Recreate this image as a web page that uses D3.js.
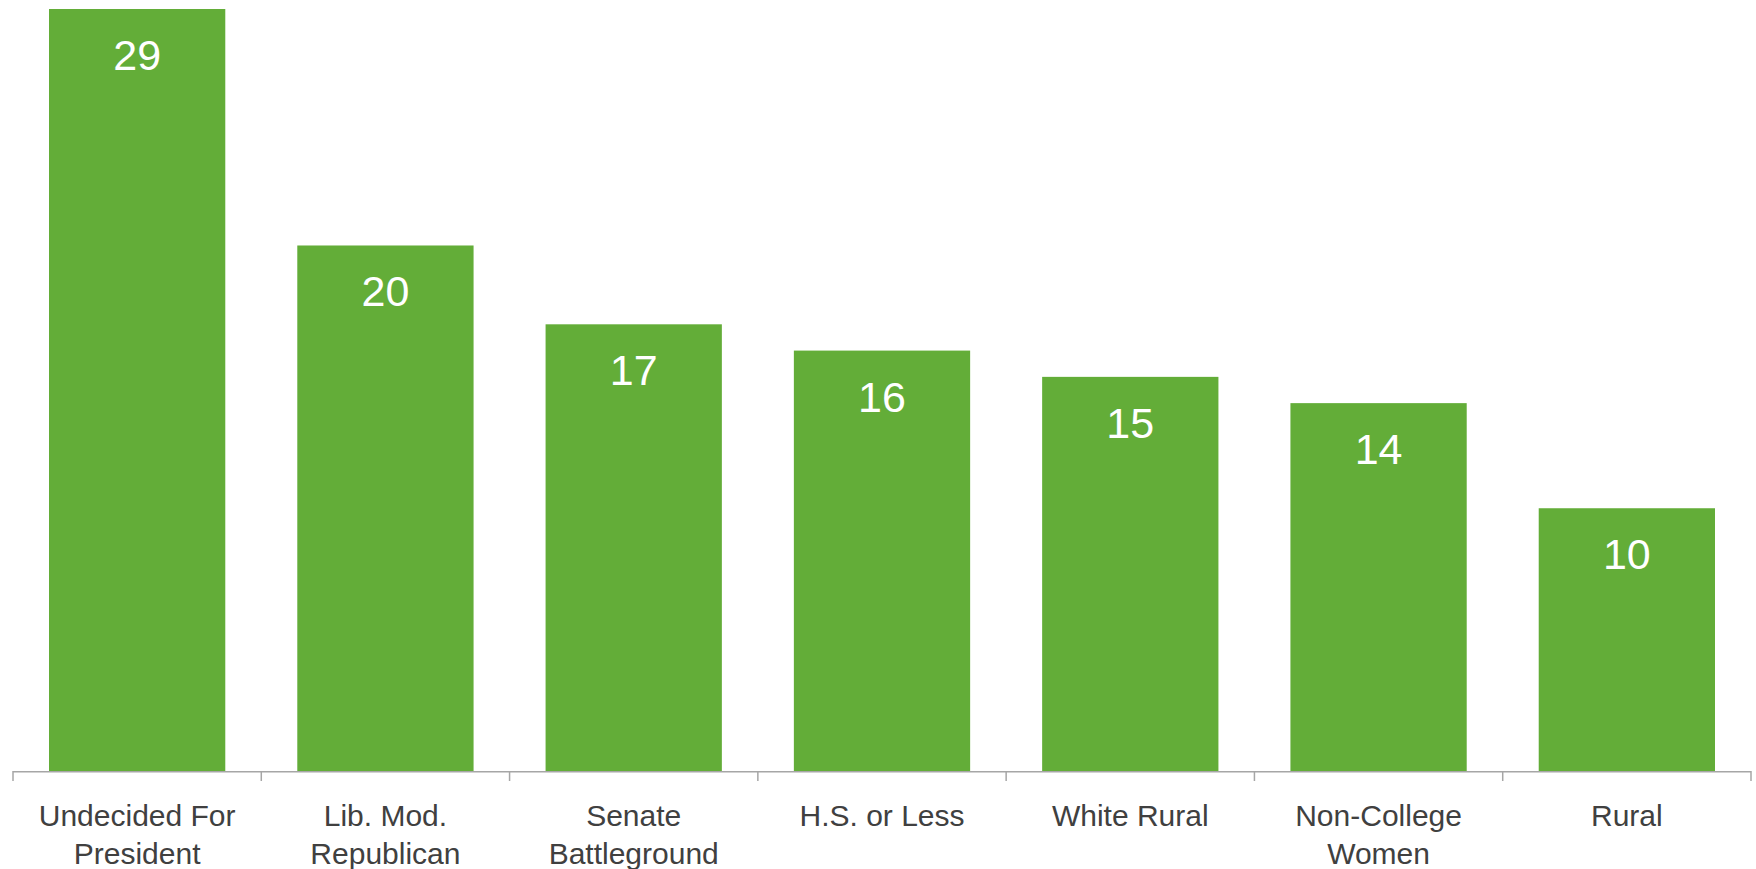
<!DOCTYPE html>
<html>
<head>
<meta charset="utf-8">
<script src="https://cdn.jsdelivr.net/npm/d3@7"></script>
<style>
  html, body { margin: 0; padding: 0; background: #ffffff; }
  svg { display: block; }
</style>
</head>
<body>
<svg id="chart" width="1756" height="869"></svg>
<script>
const categories = [
  ["Undecided For", "President"],
  ["Lib. Mod.", "Republican"],
  ["Senate", "Battleground"],
  ["H.S. or Less"],
  ["White Rural"],
  ["Non-College", "Women"],
  ["Rural"]
];
const values = [29, 20, 17, 16, 15, 14, 10];
const keys = categories.map(c => c.join(" "));

const svg = d3.select("#chart");
const baseline = 771;
const x = d3.scaleBand()
  .domain(keys)
  .range([13, 1751])
  .paddingInner(0.29)
  .paddingOuter(0.145);
const y = d3.scaleLinear().domain([0, 29]).range([baseline, 9]);

const font = "'Liberation Sans', Arial, sans-serif";

svg.selectAll("rect.bar")
  .data(values)
  .join("rect")
  .attr("class", "bar")
  .attr("x", (d, i) => x(keys[i]))
  .attr("width", x.bandwidth())
  .attr("y", d => y(d))
  .attr("height", d => y(0) - y(d))
  .attr("fill", "#63ad38");

svg.selectAll("text.val")
  .data(values)
  .join("text")
  .attr("class", "val")
  .attr("x", (d, i) => x(keys[i]) + x.bandwidth() / 2)
  .attr("y", d => y(d) + 61)
  .attr("text-anchor", "middle")
  .attr("font-family", font)
  .attr("font-size", 43)
  .attr("fill", "#ffffff")
  .text(d => d);

// axis line and band-boundary ticks
const r = x.range();
const step = x.step();
const axisG = svg.append("g");
axisG.append("line")
  .attr("x1", r[0]).attr("x2", r[1])
  .attr("y1", baseline + 0.75).attr("y2", baseline + 0.75)
  .attr("stroke", "#a6a6a6").attr("stroke-width", 1.5);
axisG.selectAll("line.tick")
  .data(d3.range(keys.length + 1))
  .join("line")
  .attr("class", "tick")
  .attr("x1", i => r[0] + i * step).attr("x2", i => r[0] + i * step)
  .attr("y1", baseline).attr("y2", baseline + 10)
  .attr("stroke", "#a6a6a6").attr("stroke-width", 1.5);

const labels = svg.selectAll("text.cat")
  .data(categories)
  .join("text")
  .attr("class", "cat")
  .attr("x", (d, i) => x(keys[i]) + x.bandwidth() / 2)
  .attr("y", 826)
  .attr("text-anchor", "middle")
  .attr("font-family", font)
  .attr("font-size", 30)
  .attr("fill", "#404040");
labels.selectAll("tspan")
  .data(d => d)
  .join("tspan")
  .attr("x", function() { return d3.select(this.parentNode).attr("x"); })
  .attr("dy", (d, i) => i === 0 ? 0 : 38)
  .text(d => d);
</script>
</body>
</html>
